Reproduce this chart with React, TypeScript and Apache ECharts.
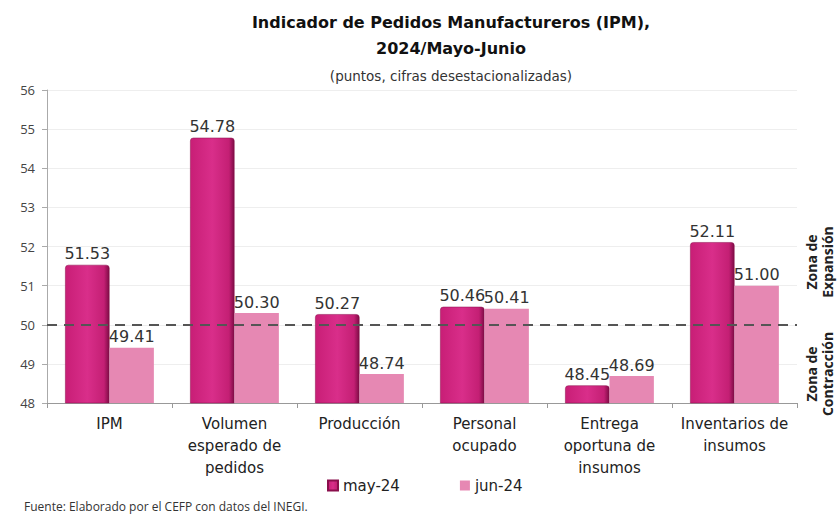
import React, { useEffect, useRef } from "react";
import * as echarts from "echarts";

const categories = [
  "IPM",
  "Volumen\nesperado de\npedidos",
  "Producción",
  "Personal\nocupado",
  "Entrega\noportuna de\ninsumos",
  "Inventarios de\ninsumos",
];
const mayValues = [51.53, 54.78, 50.27, 50.46, 48.45, 52.11];
const junValues = [49.41, 50.3, 48.74, 50.41, 48.69, 51.0];
const seriesNames = ["may-24", "jun-24"];
const yMin = 48;
const yMax = 56;
const threshold = 50;

const FONT = "'Open Sans', 'DejaVu Sans', sans-serif";
const WIDE = "'DejaVu Sans', sans-serif";

export default function App() {
  const ref = useRef<HTMLDivElement>(null);
  useEffect(() => {
    if (!ref.current) return;
    const chart = echarts.init(ref.current, undefined, { renderer: "svg" });
    const mayColor = new echarts.graphic.LinearGradient(0, 0, 1, 0, [
      { offset: 0, color: "#c81e76" },
      { offset: 0.5, color: "#d92e8a" },
      { offset: 0.88, color: "#c41f74" },
      { offset: 1, color: "#7d0c45" },
    ]);
    const label = {
      show: true,
      position: "top" as const,
      distance: 3,
      color: "#333",
      fontSize: 16,
      fontFamily: WIDE,
      formatter: (p: any) => Number(p.value).toFixed(2),
    };
    chart.setOption({
      animation: false,
      textStyle: { fontFamily: FONT },
      title: [
        {
          text: "Indicador de Pedidos Manufactureros (IPM),\n2024/Mayo-Junio",
          left: 446,
          top: 4,
          textAlign: "center",
          textStyle: {
            fontFamily: WIDE,
            fontSize: 16,
            fontWeight: "bold",
            color: "#111",
            lineHeight: 26,
          },
        },
        {
          text: "(puntos, cifras desestacionalizadas)",
          left: 446,
          top: 64,
          textAlign: "center",
          textStyle: { fontFamily: WIDE, fontSize: 13.5, fontWeight: "normal", color: "#333" },
        },
      ],
      legend: {
        bottom: 22,
        left: 322,
        itemWidth: 10,
        itemHeight: 10,
        itemGap: 60,
        icon: "rect",
        textStyle: { fontSize: 15, color: "#222", fontFamily: WIDE },
        data: seriesNames,
      },
      grid: { left: 47, right: 41, top: 90, bottom: 117 },
      xAxis: {
        type: "category",
        data: categories,
        axisLine: { lineStyle: { color: "#999" } },
        axisTick: { show: true, lineStyle: { color: "#999" } },
        axisLabel: {
          color: "#222",
          fontSize: 15,
          lineHeight: 22,
          margin: 10,
          interval: 0,
          fontFamily: WIDE,
        },
      },
      yAxis: {
        type: "value",
        min: yMin,
        max: yMax,
        interval: 1,
        axisLine: { show: true, lineStyle: { color: "#aaa" } },
        axisTick: { show: true, lineStyle: { color: "#aaa" } },
        splitLine: { lineStyle: { color: "#eee" } },
        axisLabel: { color: "#444", fontSize: 13, margin: 12, fontFamily: FONT },
      },
      series: [
        {
          name: seriesNames[0],
          type: "bar",
          data: mayValues,
          barGap: "0%",
          barCategoryGap: "29%",
          itemStyle: {
            color: mayColor,
            borderColor: "#8a0f4c",
            borderWidth: 0.5,
            borderRadius: [3, 3, 0, 0],
          },
          label,
          markLine: {
            silent: true,
            symbol: "none",
            label: { show: false },
            lineStyle: { type: [10, 7], color: "#555", width: 2 },
            data: [{ yAxis: threshold }],
          },
        },
        {
          name: seriesNames[1],
          type: "bar",
          data: junValues,
          itemStyle: { color: "#e688b3" },
          label,
        },
      ],
      graphic: [
        {
          type: "text",
          x: 803,
          y: 262,
          rotation: Math.PI / 2,
          style: {
            text: "Zona de\nExpansión",
            font: `bold 14px ${FONT}`,
            fill: "#222",
            align: "center",
            verticalAlign: "top",
            lineHeight: 16,
          },
        },
        {
          type: "text",
          x: 803,
          y: 374,
          rotation: Math.PI / 2,
          style: {
            text: "Zona de\nContracción",
            font: `bold 14px ${FONT}`,
            fill: "#222",
            align: "center",
            verticalAlign: "top",
            lineHeight: 16,
          },
        },
        {
          type: "text",
          left: 24,
          top: 500,
          style: {
            text: "Fuente: Elaborado por el CEFP con datos del INEGI.",
            font: `12px ${FONT}`,
            fill: "#333",
          },
        },
      ],
    });
    return () => chart.dispose();
  }, []);
  return <div ref={ref} style={{ width: 838, height: 520, position: "absolute", left: 0, top: 0 }} />;
}
